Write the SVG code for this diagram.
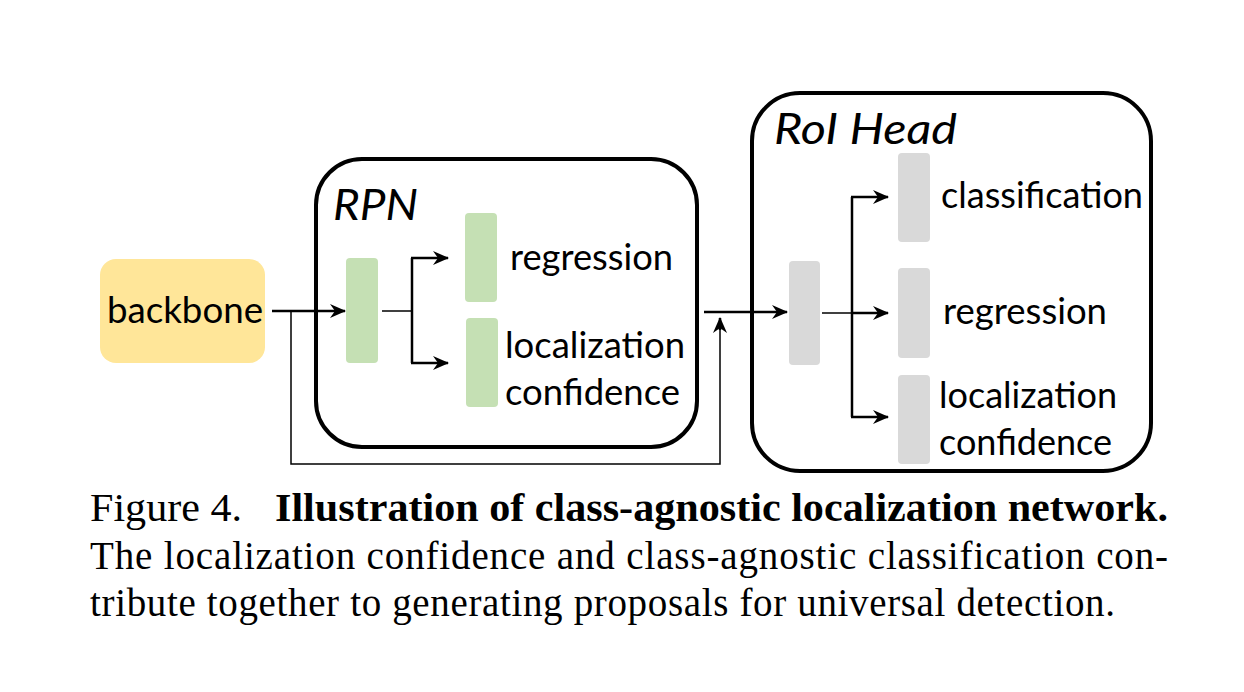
<svg xmlns="http://www.w3.org/2000/svg" width="1244" height="692" viewBox="0 0 1244 692">
<style>
.lbl{font-family:Lato,"Open Sans","Liberation Sans",sans-serif;font-size:36px;fill:#000}
.ttl{font-family:Lato,"Open Sans","Liberation Sans",sans-serif;font-size:43px;font-style:italic;fill:#000}
.cap{font-family:"Liberation Serif","Times New Roman",serif;font-size:39px;fill:#000}
.box{fill:#fff;stroke:#000;stroke-width:4}
.green{fill:#C5E0B4}
.grey{fill:#D9D9D9}
.thick{fill:none;stroke:#000;stroke-width:2.5}
.thin{fill:none;stroke:#000;stroke-width:1.5}
</style>
<defs>
<marker id="ah" markerUnits="userSpaceOnUse" markerWidth="16" markerHeight="14" refX="15" refY="7" orient="auto">
<path d="M0,0 L16,7 L0,14 L5,7 z" fill="#000"/>
</marker>
</defs>
<rect width="1244" height="692" fill="#fff"/>

<g id="rpn">
<rect class="box" x="316" y="159" width="381" height="288" rx="46"/>
<text class="ttl" x="333" y="220" textLength="85" lengthAdjust="spacingAndGlyphs">RPN</text>
</g>
<g id="roi-head">
<rect class="box" x="752" y="93" width="399" height="378" rx="48"/>
<text class="ttl" x="774" y="144" textLength="183" lengthAdjust="spacingAndGlyphs">RoI Head</text>
</g>

<g id="backbone">
<rect x="100" y="259" width="165" height="104" rx="16" fill="#FFE699"/>
<text class="lbl" x="107" y="323" textLength="156" lengthAdjust="spacingAndGlyphs">backbone</text>
</g>

<g id="rpn-feat"><rect class="green" x="346" y="258" width="32" height="105" rx="4"/></g>
<g id="rpn-reg">
<rect class="green" x="465" y="213" width="32" height="89" rx="4"/>
<text class="lbl" x="510" y="270" textLength="163" lengthAdjust="spacingAndGlyphs">regression</text>
</g>
<g id="rpn-loc">
<rect class="green" x="466" y="318" width="32" height="89" rx="4"/>
<text class="lbl" x="505" y="358" textLength="180" lengthAdjust="spacingAndGlyphs">localization</text>
<text class="lbl" x="505" y="405" textLength="175" lengthAdjust="spacingAndGlyphs">confidence</text>
</g>

<g id="roi-feat"><rect class="grey" x="789" y="261" width="31" height="104" rx="4"/></g>
<g id="roi-cls">
<rect class="grey" x="898" y="153" width="32" height="89" rx="4"/>
<text class="lbl" x="941" y="208" textLength="202" lengthAdjust="spacingAndGlyphs">classification</text>
</g>
<g id="roi-reg">
<rect class="grey" x="898" y="268" width="32" height="90" rx="4"/>
<text class="lbl" x="943" y="324" textLength="164" lengthAdjust="spacingAndGlyphs">regression</text>
</g>
<g id="roi-loc">
<rect class="grey" x="898" y="375" width="32" height="89" rx="4"/>
<text class="lbl" x="939" y="408" textLength="178" lengthAdjust="spacingAndGlyphs">localization</text>
<text class="lbl" x="939" y="455" textLength="173" lengthAdjust="spacingAndGlyphs">confidence</text>
</g>

<g id="connectors">
<path class="thick" d="M272,311 H345" marker-end="url(#ah)"/>
<path class="thin" d="M291,311 V464 H720 V320"/>
<path class="thick" d="M720,330 V318" marker-end="url(#ah)"/>
<path class="thin" d="M382,311 H412"/>
<path class="thick" d="M412,258 V363"/>
<path class="thick" d="M411,258 H448" marker-end="url(#ah)"/>
<path class="thick" d="M411,363 H448" marker-end="url(#ah)"/>
<path class="thick" d="M704,312 H787" marker-end="url(#ah)"/>
<path class="thin" d="M822,313 H852"/>
<path class="thick" d="M852,197 V417"/>
<path class="thick" d="M851,197 H888" marker-end="url(#ah)"/>
<path class="thick" d="M852,313 H888" marker-end="url(#ah)"/>
<path class="thick" d="M851,417 H888" marker-end="url(#ah)"/>
</g>

<g id="caption">
<text class="cap" x="90" y="521" textLength="152" lengthAdjust="spacingAndGlyphs">Figure 4.</text>
<text class="cap" x="275" y="521" font-weight="bold" textLength="893" lengthAdjust="spacingAndGlyphs">Illustration of class-agnostic localization network.</text>
<text class="cap" x="90" y="569" textLength="1078" lengthAdjust="spacing">The localization confidence and class-agnostic classification con-</text>
<text class="cap" x="90" y="616" textLength="1025" lengthAdjust="spacing">tribute together to generating proposals for universal detection.</text>
</g>
</svg>
